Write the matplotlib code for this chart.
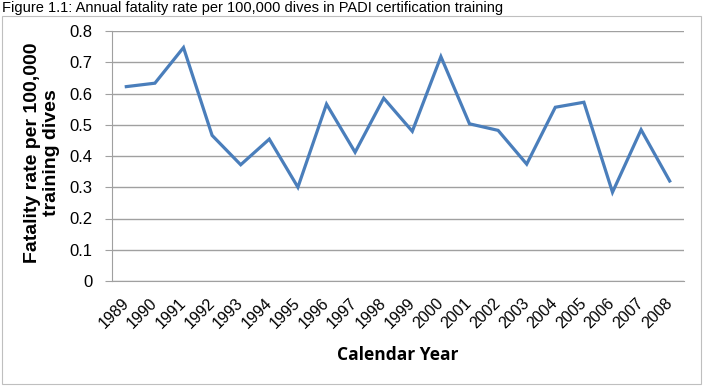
import matplotlib
matplotlib.use('Agg')
import matplotlib.pyplot as plt
from matplotlib.patches import Rectangle

years = [str(y) for y in range(1989, 2009)]
rates = [0.622, 0.633, 0.747, 0.466, 0.372, 0.454, 0.300, 0.566, 0.412, 0.585,
         0.479, 0.718, 0.503, 0.482, 0.374, 0.556, 0.572, 0.284, 0.484, 0.320]
yticks = [0, 0.1, 0.2, 0.3, 0.4, 0.5, 0.6, 0.7, 0.8]
ytick_labels = ['0', '0.1', '0.2', '0.3', '0.4', '0.5', '0.6', '0.7', '0.8']


def main():
    plt.rcParams['font.family'] = ['Liberation Sans', 'DejaVu Sans']
    fig = plt.figure(figsize=(7.05, 3.86), dpi=100)
    W, H = 705.0, 386.0

    # chart frame
    fig.patches.append(Rectangle((2 / W, 2 / H), 699 / W, 368 / H, transform=fig.transFigure,
                                 fill=False, edgecolor='#BFBFBF', linewidth=0.8))

    fig.text(2 / W, 1 - 8 / H, 'Figure 1.1: Annual fatality rate per 100,000 dives in PADI certification training',
             fontsize=10.5, va='center', ha='left')

    ax = fig.add_axes([112 / W, 1 - 281 / H, 572 / W, 250 / H])
    x = list(range(len(years)))
    ax.plot(x, rates, color='#4A7EBB', linewidth=2.3, solid_joinstyle='miter')
    ax.set_xlim(-0.5, len(years) - 0.5)
    ax.set_ylim(0, 0.8)
    ax.set_yticks(yticks)
    ax.set_yticklabels(ytick_labels, fontsize=12)
    ax.set_xticks(x)
    ax.set_xticklabels(years, rotation=45, fontsize=11.5, ha='right', va='center',
                       rotation_mode='anchor')
    ax.tick_params(axis='y', length=5, color='#A0A0A0', pad=9)
    ax.tick_params(axis='x', length=0, pad=14)
    ax.grid(axis='y', color='#A0A0A0', linewidth=1)
    ax.set_axisbelow(True)
    for s in ['top', 'right']:
        ax.spines[s].set_visible(False)
    ax.spines['left'].set_color('#A0A0A0')
    ax.spines['bottom'].set_color('#A0A0A0')

    fig.text(42 / W, 1 - 153 / H, 'Fatality rate per 100,000\ntraining dives', rotation=90,
             fontsize=14, fontweight='bold', ha='center', va='center', linespacing=1.15)
    fig.text(398 / W, 1 - 355 / H, 'Calendar Year', fontsize=12.5, fontweight='bold',
             family=['Open Sans', 'DejaVu Sans'], ha='center', va='center')

    fig.savefig('out.png', dpi=100)
    plt.close()


if __name__ == '__main__':
    main()
